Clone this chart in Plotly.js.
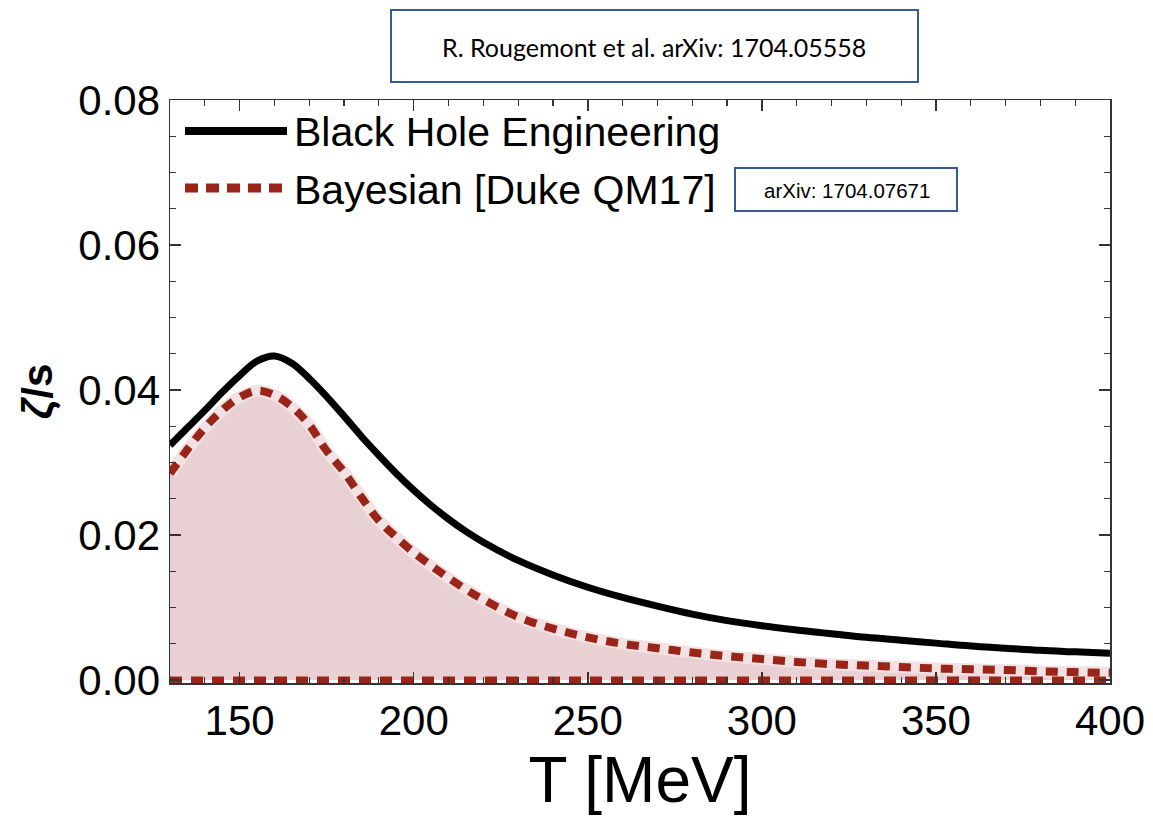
<!DOCTYPE html>
<html>
<head>
<meta charset="utf-8">
<script src="https://cdn.plot.ly/plotly-3.0.1.min.js"></script>
<style>
  html, body { margin: 0; padding: 0; background: #ffffff; }
  #chart { width: 1153px; height: 818px; }
</style>
</head>
<body>
<div id="chart"></div>
<script>
// Temperature grid (MeV)
const temperature = [130, 135, 140, 145, 150, 155, 160, 165, 170, 175, 180, 185, 190, 195,
  200, 205, 210, 215, 220, 230, 240, 250, 260, 270, 280, 290, 300, 310, 320, 330, 340, 350,
  360, 370, 380, 390, 400];

// Black Hole Engineering zeta/s
const bheZetaS = [0.0324, 0.0348, 0.0372, 0.0397, 0.0420, 0.0440, 0.0447, 0.0437, 0.0416, 0.0391,
  0.0364, 0.0336, 0.0310, 0.0285, 0.0262, 0.0241, 0.0222, 0.0205, 0.0190, 0.0165,
  0.0145, 0.0128, 0.0114, 0.0102, 0.0091, 0.0082, 0.0075, 0.0069, 0.0064, 0.0059,
  0.0055, 0.0051, 0.0047, 0.0044, 0.0041, 0.0039, 0.0037];

// Bayesian [Duke QM17] band: upper and lower bound
const bayesUpper = [0.0285, 0.0318, 0.0348, 0.0372, 0.0390, 0.0399, 0.0393, 0.0377, 0.0352, 0.0316,
  0.0287, 0.0252, 0.0220, 0.0197, 0.0176, 0.0158, 0.0141, 0.0125, 0.0111, 0.0087,
  0.0071, 0.0059, 0.0050, 0.0044, 0.0038, 0.0033, 0.0029, 0.0025, 0.0022, 0.0020,
  0.0018, 0.0016, 0.0015, 0.0014, 0.0012, 0.0011, 0.0010];
const bayesLower = [0, 0, 0, 0, 0, 0, 0, 0, 0, 0,
  0, 0, 0, 0, 0, 0, 0, 0, 0, 0,
  0, 0, 0, 0, 0, 0, 0, 0, 0, 0,
  0, 0, 0, 0, 0, 0, 0];

// Texts
const seriesNames = ["Black Hole Engineering", "Bayesian [Duke QM17]"];
const topNote = "R. Rougemont et al. arXiv: 1704.05558";
const bayesNote = "arXiv: 1704.07671";
const xTickVals = [150, 200, 250, 300, 350, 400];
const yTickVals = [0.00, 0.02, 0.04, 0.06, 0.08];

const RED = "#9a2418";
const FILL = "#e9d1d3";
const HALO = "#f2e2e3";
const DASH = "12px,9px";

const traces = [
  { x: temperature, y: bayesLower, mode: "lines", line: { width: 0, color: FILL },
    hoverinfo: "skip", showlegend: false },
  { x: temperature, y: bayesUpper, mode: "lines", fill: "tonexty", fillcolor: FILL,
    line: { width: 0, color: FILL, shape: "spline" }, hoverinfo: "skip", showlegend: false },
  { x: temperature, y: bayesUpper, mode: "lines", line: { width: 12, color: HALO, shape: "spline" },
    hoverinfo: "skip", showlegend: false },
  { x: temperature, y: bayesUpper, mode: "lines", name: seriesNames[1],
    line: { width: 8, color: RED, dash: DASH, shape: "spline" }, showlegend: false },
  { x: temperature, y: bayesLower, mode: "lines", name: seriesNames[1],
    line: { width: 7, color: RED, dash: DASH }, showlegend: false },
  { x: temperature, y: bheZetaS, mode: "lines", name: seriesNames[0],
    line: { width: 7, color: "#000000", shape: "spline" }, showlegend: false }
];

// paper-coordinate helpers for the drawn plot frame (170..1110 x, 100..683 y)
const L = 170, R = 1110, T = 100, B = 683;
const px = v => (v - L) / (R - L);
const py = v => (B - v) / (B - T);

const shapes = [
  // hand-made legend samples
  { type: "line", xref: "paper", yref: "paper", x0: px(185), x1: px(287), y0: py(131), y1: py(131),
    line: { color: "#000000", width: 8 } },
  { type: "line", xref: "paper", yref: "paper", x0: px(185), x1: px(289), y0: py(188), y1: py(188),
    line: { color: RED, width: 9, dash: "13px,8px" } },
  // note boxes
  { type: "rect", xref: "paper", yref: "paper", x0: px(391), x1: px(918), y0: py(82), y1: py(10),
    line: { color: "#3a5a95", width: 2 }, fillcolor: "rgba(0,0,0,0)" },
  { type: "rect", xref: "paper", yref: "paper", x0: px(735), x1: px(957), y0: py(211), y1: py(168),
    line: { color: "#3a5a95", width: 2 }, fillcolor: "rgba(0,0,0,0)" }
];

const annotations = [
  { xref: "paper", yref: "paper", x: px(292), y: py(132), xanchor: "left", yanchor: "middle",
    text: seriesNames[0], showarrow: false,
    font: { family: "Liberation Sans, Arial, sans-serif", size: 41, color: "#000" } },
  { xref: "paper", yref: "paper", x: px(292), y: py(190), xanchor: "left", yanchor: "middle",
    text: seriesNames[1], showarrow: false,
    font: { family: "Liberation Sans, Arial, sans-serif", size: 41, color: "#000" } },
  { xref: "paper", yref: "paper", x: px(654), y: py(47), xanchor: "center", yanchor: "middle",
    text: topNote, showarrow: false,
    font: { family: "Lato, 'Open Sans', sans-serif", size: 25, color: "#000" } },
  { xref: "paper", yref: "paper", x: px(847), y: py(190), xanchor: "center", yanchor: "middle",
    text: bayesNote, showarrow: false,
    font: { family: "Liberation Sans, Arial, sans-serif", size: 20.5, color: "#000" } }
];

const axisCommon = {
  showgrid: false, zeroline: false, showline: true, linecolor: "#333333", linewidth: 1.5,
  mirror: "allticks", ticks: "inside", ticklen: 11, tickwidth: 1.5, tickcolor: "#333333",
  tickfont: { family: "Liberation Sans, Arial, sans-serif", size: 42, color: "#000" }
};

const layout = {
  width: 1153, height: 818,
  margin: { l: L, r: 1153 - R, t: T, b: 818 - B },
  paper_bgcolor: "#ffffff", plot_bgcolor: "#ffffff",
  showlegend: false,
  xaxis: Object.assign({}, axisCommon, {
    range: [130, 400], tickmode: "array", tickvals: xTickVals,
    minor: { dtick: 10, tick0: 130, ticks: "inside", ticklen: 6, tickwidth: 1.2, tickcolor: "#333333" },
    title: { text: "T [MeV]", standoff: 12,
      font: { family: "Liberation Sans, Arial, sans-serif", size: 64, color: "#000" } }
  }),
  yaxis: Object.assign({}, axisCommon, {
    range: [-0.0004, 0.08], tickmode: "array", tickvals: yTickVals, tickformat: ".2f",
    minor: { dtick: 0.005, tick0: 0, ticks: "inside", ticklen: 6, tickwidth: 1.2, tickcolor: "#333333" },
    title: { text: "<b><i>ζ</i>/s</b>", standoff: 12,
      font: { family: "Liberation Sans, Arial, sans-serif", size: 42, color: "#000" } }
  }),
  shapes: shapes,
  annotations: annotations
};

Plotly.newPlot("chart", traces, layout, { staticPlot: true, displayModeBar: false });
</script>
</body>
</html>
